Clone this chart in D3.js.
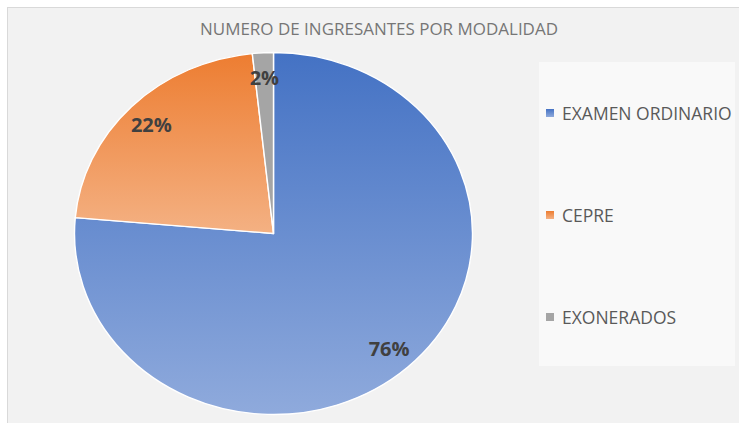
<!DOCTYPE html>
<html lang="es">
<head>
<meta charset="utf-8">
<title>Numero de ingresantes por modalidad</title>
<script src="https://d3js.org/d3.v7.min.js"></script>
<style>
  body { margin: 0; background: #fff; }
  text { font-family: "Open Sans", sans-serif; }
</style>
</head>
<body>
<svg width="739" height="423"></svg>
<script>
    // datos
    var categorias = ["EXAMEN ORDINARIO", "CEPRE", "EXONERADOS"];
    var valores = [76.4, 21.9, 1.7];
    var colores = [["#4472c4", "#8faadc"], ["#ed7d31", "#f4b183"], ["#a5a5a5", "#a5a5a5"]];
    var titulo = "NUMERO DE INGRESANTES POR MODALIDAD";

    var svg = d3.select("svg");

    // area del grafico
    svg.append("rect")
        .attr("x", 7.5).attr("y", 7.5)
        .attr("width", 740).attr("height", 420)
        .attr("fill", "#f2f2f2")
        .attr("stroke", "#d9d9d9");

    svg.append("text")
        .attr("x", 379).attr("y", 35)
        .attr("text-anchor", "middle")
        .attr("font-size", 16.5)
        .attr("textLength", 358)
        .attr("lengthAdjust", "spacingAndGlyphs")
        .attr("fill", "#767676")
        .text(titulo);

    // gradientes por sector
    var defs = svg.append("defs");
    colores.forEach(function(c, i){
        var lg = defs.append("linearGradient")
            .attr("id", "grad" + i)
            .attr("x1", 0).attr("y1", 0).attr("x2", 0).attr("y2", 1);
        lg.append("stop").attr("offset", "0%").attr("stop-color", c[0]);
        lg.append("stop").attr("offset", "100%").attr("stop-color", c[1]);
    });

    // pie (algo estirado en horizontal, como en la imagen)
    var r = 181;
    var sx = 199 / 181;
    var total = d3.sum(valores);
    var pie = d3.pie().sort(null).value(function(d){ return d; });
    var arcs = pie(valores);
    var arc = d3.arc().innerRadius(0).outerRadius(r);
    var arcLabel = d3.arc().innerRadius(r * 0.86).outerRadius(r * 0.86);

    var g = svg.append("g")
        .attr("transform", "translate(273.5,233.5) scale(" + sx + ",1)");

    g.selectAll("path")
        .data(arcs)
        .enter()
        .append("path")
        .attr("d", arc)
        .attr("fill", function(d, i){ return "url(#grad" + i + ")"; })
        .attr("stroke", "#fff")
        .attr("stroke-width", 1.3)
        .attr("stroke-linejoin", "round");

    svg.selectAll("text.lbl")
        .data(arcs)
        .enter()
        .append("text")
        .attr("class", "lbl")
        .attr("x", function(d){ return 273.5 + arcLabel.centroid(d)[0] * sx; })
        .attr("y", function(d){ return 233.5 + arcLabel.centroid(d)[1]; })
        .attr("dy", "0.36em")
        .attr("text-anchor", "middle")
        .attr("font-size", 20)
        .attr("font-weight", "bold")
        .attr("fill", "#404040")
        .text(function(d){ return Math.round(d.value / total * 100) + "%"; });

    // leyenda
    svg.append("rect")
        .attr("x", 539).attr("y", 62)
        .attr("width", 196).attr("height", 304)
        .attr("fill", "#f9f9f9");

    var leg = svg.selectAll("g.leg")
        .data(categorias)
        .enter()
        .append("g")
        .attr("class", "leg")
        .attr("transform", function(d, i){ return "translate(546," + (109 + i * 102) + ")"; });

    leg.append("rect")
        .attr("width", 8).attr("height", 8)
        .attr("fill", function(d, i){ return "url(#grad" + i + ")"; });

    leg.append("text")
        .attr("x", 16).attr("y", 10.5)
        .attr("font-size", 17.5)
        .attr("fill", "#595959")
        .text(function(d){ return d; });
</script>
</body>
</html>
